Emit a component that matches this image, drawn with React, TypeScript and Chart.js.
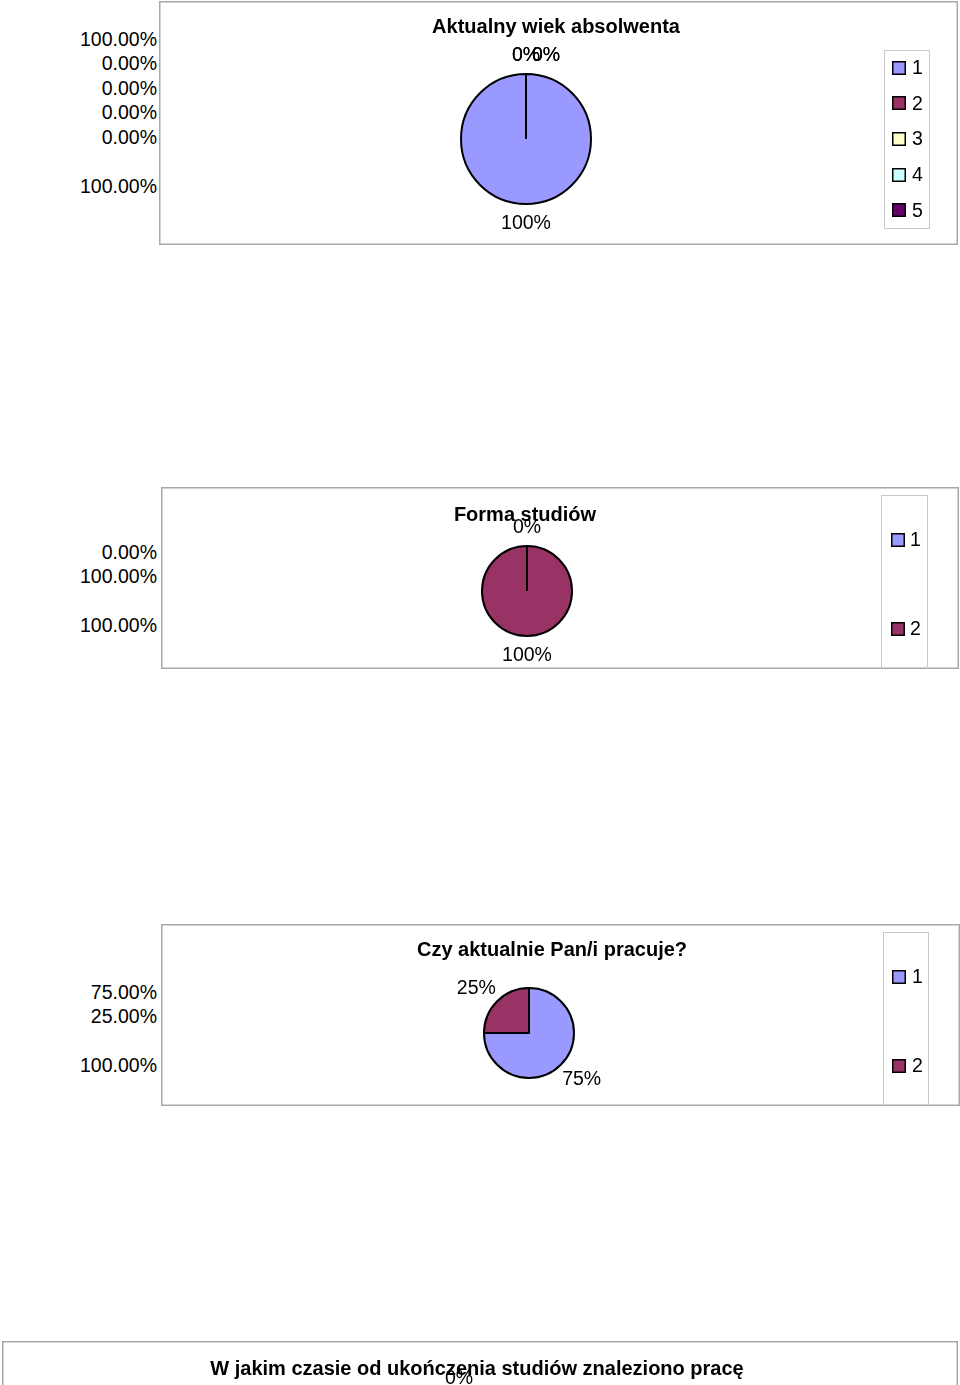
import React, { useEffect, useRef } from "react";
import { Chart, registerables } from "chart.js";

Chart.register(...registerables);

const FONT = '"Liberation Sans", Arial, Helvetica, sans-serif';

// ---------- DATA ----------
const ageTitle = "Aktualny wiek absolwenta";
const ageLabels = ["1", "2", "3", "4", "5"];
const ageValues = [100, 0, 0, 0, 0];

const formTitle = "Forma studiów";
const formLabels = ["1", "2"];
const formValues = [0, 100];

const workTitle = "Czy aktualnie Pan/i pracuje?";
const workLabels = ["1", "2"];
const workValues = [75, 25];

const timeTitle = "W jakim czasie od ukończenia studiów znaleziono pracę";
const timeLabels = ["1", "2"];
const timeValues = [0, 100];

const palette = ["#9999FF", "#993366", "#FFFFCC", "#CCFFFF", "#660066"];

// ---------- CONFIG (layout in page coordinates) ----------
type Cfg = {
  title: string;
  labels: string[];
  values: number[];
  left: number; top: number; width: number; height: number;
  cx: number; cy: number; r: number;
  titleX: number; titleY: number;
  legend?: { x: number; y: number; w: number; h: number; sqX: number; textX: number };
  labelShift?: number[][];
  frameColor: string;
};

const charts: Cfg[] = [
  {
    title: ageTitle, labels: ageLabels, values: ageValues,
    left: 159, top: 1, width: 799, height: 244,
    cx: 526, cy: 139, r: 65, titleX: 556, titleY: 26,
    legend: { x: 884, y: 50, w: 45, h: 178, sqX: 892, textX: 912 },
    labelShift: [[0, 0], [0, 0], [0, 0], [20, 0], [20, 0]],
    frameColor: "#a8a8a8",
  },
  {
    title: formTitle, labels: formLabels, values: formValues,
    left: 161, top: 487, width: 798, height: 182,
    cx: 527, cy: 591, r: 45, titleX: 525, titleY: 514,
    legend: { x: 881, y: 495, w: 46, h: 178, sqX: 891, textX: 910 },
    frameColor: "#a8a8a8",
  },
  {
    title: workTitle, labels: workLabels, values: workValues,
    left: 161, top: 924, width: 799, height: 182,
    cx: 529, cy: 1033, r: 45, titleX: 552, titleY: 949,
    legend: { x: 883, y: 932, w: 45, h: 178, sqX: 892, textX: 912 },
    frameColor: "#a8a8a8",
  },
  {
    title: timeTitle, labels: timeLabels, values: timeValues,
    left: 2, top: 1341, width: 956, height: 300,
    cx: 459, cy: 1462, r: 65, titleX: 477, titleY: 1368,
    frameColor: "#a8a8a8",
  },
];

const leftColumns = [
  { values: ageValues, center: 39 },
  { values: formValues, center: 552 },
  { values: workValues, center: 992 },
];

function makeDecor(cfg: Cfg) {
  const ox = cfg.left, oy = cfg.top;
  return {
    id: "decor",
    beforeDraw(chart: any) {
      const { ctx, width, height } = chart;
      ctx.save();
      ctx.fillStyle = "#fff";
      ctx.fillRect(0, 0, width, height);
      ctx.strokeStyle = cfg.frameColor;
      ctx.lineWidth = 1.5;
      ctx.strokeRect(0.75, 0.75, width - 1.5, height - 1.5);
      const lg = cfg.legend;
      if (lg) {
        ctx.strokeStyle = "#c8c8c8";
        ctx.lineWidth = 1;
        ctx.strokeRect(lg.x - ox + 0.5, lg.y - oy + 0.5, lg.w, lg.h);
        const n = chart.data.labels.length;
        const bg = chart.data.datasets[0].backgroundColor;
        ctx.font = `19.5px ${FONT}`;
        ctx.textAlign = "left";
        ctx.textBaseline = "middle";
        for (let i = 0; i < n; i++) {
          const yc = lg.y - oy + (i + 0.5) * (lg.h / n);
          const sy = Math.round(yc - 7);
          ctx.fillStyle = bg[i];
          ctx.fillRect(lg.sqX - ox, sy, 14, 14);
          ctx.strokeStyle = "#000";
          ctx.lineWidth = 1.5;
          ctx.strokeRect(lg.sqX - ox + 0.75, sy + 0.75, 12.5, 12.5);
          ctx.fillStyle = "#000";
          ctx.fillText(String(chart.data.labels[i]), lg.textX - ox, yc + 1);
        }
      }
      ctx.restore();
    },
    afterDatasetsDraw(chart: any) {
      const { ctx } = chart;
      const meta = chart.getDatasetMeta(0);
      const ds = chart.data.datasets[0].data as number[];
      const total = ds.reduce((a, b) => a + b, 0);
      ctx.save();
      ctx.font = `19.5px ${FONT}`;
      ctx.fillStyle = "#000";
      ctx.textAlign = "center";
      ctx.textBaseline = "middle";
      meta.data.forEach((el: any, i: number) => {
        const p = el.getProps(["x", "y", "startAngle", "endAngle", "outerRadius"], true);
        const mid = (p.startAngle + p.endAngle) / 2;
        const txt = Math.round((ds[i] / total) * 100) + "%";
        const w = ctx.measureText(txt).width;
        const h = 18;
        const d = p.outerRadius + 10;
        let lx = p.x + Math.cos(mid) * d + (Math.cos(mid) * w) / 2;
        let ly = p.y + Math.sin(mid) * d + (Math.sin(mid) * h) / 2;
        const s = cfg.labelShift && cfg.labelShift[i];
        if (s) { lx += s[0]; ly += s[1]; }
        ctx.fillText(txt, lx, ly + 1);
      });
      ctx.restore();
    },
    afterDraw(chart: any) {
      const { ctx } = chart;
      ctx.save();
      ctx.font = `bold 20px ${FONT}`;
      ctx.fillStyle = "#000";
      ctx.textAlign = "center";
      ctx.textBaseline = "middle";
      ctx.fillText(cfg.title, cfg.titleX - ox, cfg.titleY - oy + 1);
      ctx.restore();
    },
  };
}

function PieBox({ cfg }: { cfg: Cfg }) {
  const ref = useRef<HTMLCanvasElement | null>(null);
  useEffect(() => {
    if (!ref.current) return;
    const cx = cfg.cx - cfg.left;
    const cy = cfg.cy - cfg.top;
    const chart = new Chart(ref.current, {
      type: "pie",
      data: {
        labels: cfg.labels,
        datasets: [
          {
            data: cfg.values,
            backgroundColor: palette.slice(0, cfg.values.length),
            borderColor: "#000",
            borderWidth: 2,
            radius: cfg.r,
          } as any,
        ],
      },
      options: {
        responsive: false,
        animation: false,
        devicePixelRatio: 1,
        events: [],
        layout: {
          padding: {
            left: cx - 10,
            right: cfg.width - cx - 10,
            top: cy - 10,
            bottom: cfg.height - cy - 10,
          },
        },
        plugins: {
          legend: { display: false },
          title: { display: false },
          tooltip: { enabled: false },
        },
      },
      plugins: [makeDecor(cfg)],
    });
    return () => chart.destroy();
  }, [cfg]);
  return (
    <canvas
      ref={ref}
      width={cfg.width}
      height={cfg.height}
      style={{ position: "absolute", left: cfg.left, top: cfg.top, width: cfg.width, height: cfg.height }}
    />
  );
}

export default function App() {
  return (
    <div
      style={{
        position: "absolute", left: 0, top: 0, width: 960, height: 1385,
        overflow: "hidden", background: "#fff", fontFamily: FONT,
      }}
    >
      {leftColumns.map((col, k) => {
        const total = col.values.reduce((a, b) => a + b, 0);
        const lines = [...col.values.map((v) => v.toFixed(2) + "%"), "\u00a0", total.toFixed(2) + "%"];
        return (
          <div
            key={k}
            style={{
              position: "absolute", left: 0, width: 157, top: col.center - 12.25,
              textAlign: "right", fontSize: 19.5, lineHeight: "24.5px", color: "#000",
            }}
          >
            {lines.map((t, i) => (
              <div key={i}>{t}</div>
            ))}
          </div>
        );
      })}
      {charts.map((c, i) => (
        <PieBox key={i} cfg={c} />
      ))}
    </div>
  );
}
